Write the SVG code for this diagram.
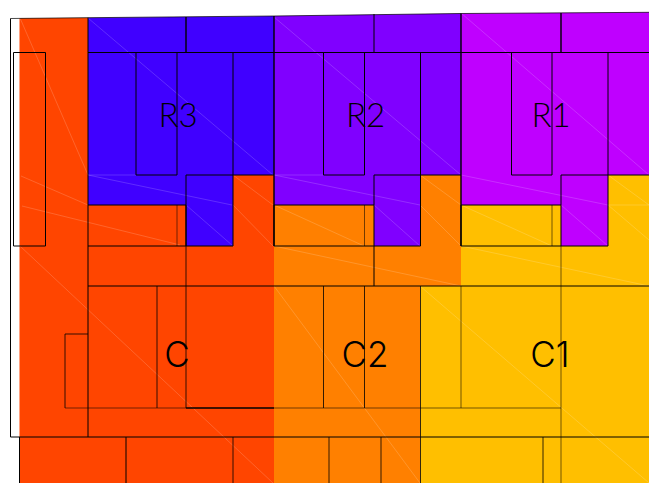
<svg xmlns="http://www.w3.org/2000/svg" width="649" height="483" viewBox="0 0 649 483">
<style>
.l{fill:none;stroke:#000;stroke-width:1}
.t{stroke-opacity:.8}
.s{stroke-opacity:.55}
.b{stroke-width:1.4}
.w{fill:none;stroke:#fff;stroke-opacity:.17;stroke-width:1}
text{font-family:"Lato","Liberation Sans",sans-serif;font-size:33px;font-weight:300;text-anchor:middle;fill:#000}
text.c{font-family:"Inter","Liberation Sans",sans-serif;font-size:35px;font-weight:300}
</style>
<rect width="649" height="483" fill="#fff"/>
<g id="regions">
<path fill="#ff4500" d="M19.500 18.300L88 17.700V437H274V483H19.500Z"/>
<path fill="#ff4500" d="M88 205H186V175H274V437H88Z"/>
<path fill="#4000ff" d="M88 17.700L274 16V175H233V246H186V205H88Z"/>
<path fill="#ff8000" d="M274 205H374V175H461V286H420.500V483H274Z"/>
<path fill="#8000ff" d="M274 16L461 13.500V175H420.500V246H374V205H274Z"/>
<path fill="#ffbf00" d="M461 205H561V175H649V483H420.500V286H461Z"/>
<path fill="#bf00ff" d="M461 13.500L649 12.300V175H608V246H561V205H461Z"/>
</g>
<g id="hatch">
<path class="w" d="M20 18L88 175M21 176L88 205M22 206L180 245M88 18L273 175M88 175H136M88 175L232 205M186 205L233 246M233 175L273 205M233 205L273 246M20 246L273 483"/>
<path class="w" d="M274 17L461 175M274 175H323M274 175L420 205M374 205L420 246M274 205L364 246M420 175L461 205M420 205L461 246M274 246L461 286M274 286L420 483"/>
<path class="w" d="M420 286L649 483M461 13L649 175M461 175L608 205M561 205L608 246M461 205L552 246M608 175L649 205M608 205H649M608 205L649 240M461 246L649 286"/>
</g>
<g id="connectors">
<path class="l" stroke-opacity=".7" d="M10.500 18.500L88 17.700L274 16L461 13.500L649 12.300"/>
<path class="l" d="M10.500 18.500V437H649M13.500 52.500H45.500V246H13.500Z"/>
<path class="l" d="M88 17.700V437M88 52.500H649M88 205H186M88 246H186V205"/>
<path class="l b" d="M186 17V52.500M274 16V246M461 13.500V246M561 13V52.500"/>
<path class="l" d="M374 14V52.500M136 52.500V175H177V52.500M233 52.500V175M186 246V175H274M186 246H233V175"/>
<path class="l" d="M323.500 52.500V175H364.500V52.500M420.500 52.500V246H374V175H461M374 205H274V246H374V286"/>
<path class="l" d="M511.500 52.500V175H552V52.500M608 52.500V246H561V175H649M561 205H461V246H561"/>
<path class="l s" d="M177 205V246M364.500 205V246M552 205V246"/>
<path class="l" d="M88 286H649"/>
<path class="l t" d="M186 246V408M157 286V408M323.500 286V408M364.500 286V408M65 408V334H88"/>
<path class="l s" d="M65 408H186M274 408H561M461 286V408M561 246V483"/>
<path class="l b" d="M186 408H274"/>
<path class="l" d="M19.500 437V483M126 437V483"/>
<path class="l t" d="M420.500 286V483M233 437V483M329 437V483M381 437V483M543 437V483"/>
</g>
<g id="R3"><text x="178" y="127">R3</text></g>
<g id="R2"><text x="365.500" y="127">R2</text></g>
<g id="R1"><text x="551" y="127">R1</text></g>
<g id="C"><text class="c" x="177" y="366.500">C</text></g>
<g id="C2"><text class="c" x="365" y="366.500">C2</text></g>
<g id="C1"><text class="c" x="550" y="366.500">C1</text></g>
</svg>
